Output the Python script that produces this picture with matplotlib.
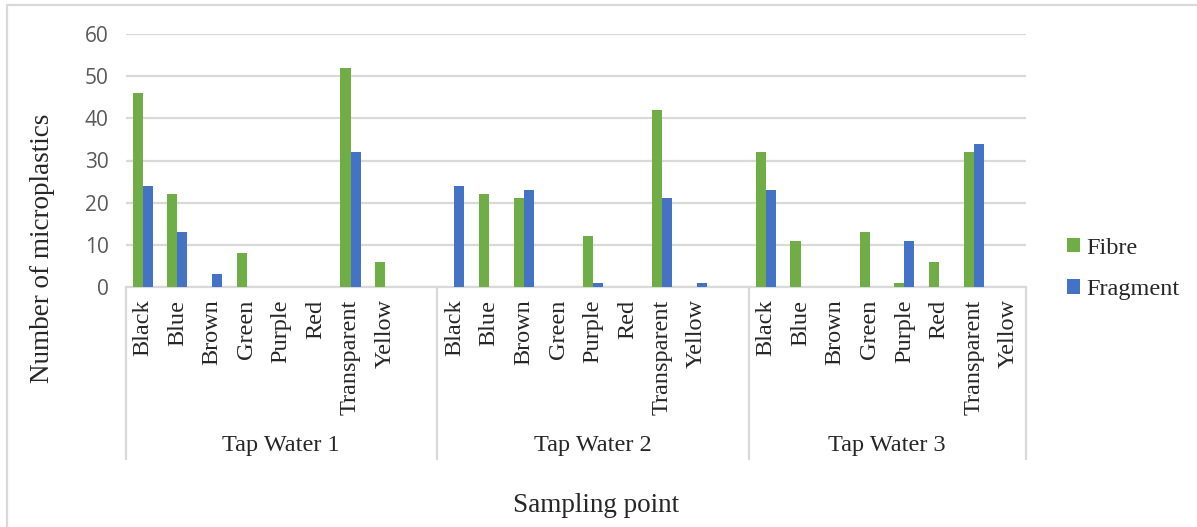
import matplotlib
matplotlib.use("Agg")
import matplotlib.pyplot as plt
from matplotlib.lines import Line2D
from matplotlib.patches import Patch
from matplotlib.transforms import blended_transform_factory

# Data
groups = ["Tap Water 1", "Tap Water 2", "Tap Water 3"]
colours = ["Black", "Blue", "Brown", "Green", "Purple", "Red", "Transparent", "Yellow"]
fibre = [
    [46, 22, 0, 8, 0, 0, 52, 6],
    [0, 22, 21, 0, 12, 0, 42, 0],
    [32, 11, 0, 13, 1, 6, 32, 0],
]
fragment = [
    [24, 13, 3, 0, 0, 0, 32, 0],
    [24, 0, 23, 0, 1, 0, 21, 1],
    [23, 0, 0, 0, 11, 0, 34, 0],
]
y_ticks = [0, 10, 20, 30, 40, 50, 60]

W, H = 1197, 527
fig = plt.figure(figsize=(W / 100, H / 100), dpi=100)

# Axes placement in pixels
x0, x1 = 125.5, 1025.5
y_zero, y_top = 287, 34
ax = fig.add_axes([x0 / W, 1 - y_zero / H, (x1 - x0) / W, (y_zero - y_top) / H])

GREEN = "#70AD47"
BLUE = "#4472C4"
GRID = "#D9D9D9"
TEXT = "#262626"
serif = "Liberation Serif"
fs = 17.5

# Each group takes 9 slots (8 colours + one empty), the last group only 8
slots_per_group = [9, 9, 8]
starts = [0, 9, 18]
n_slots = sum(slots_per_group)
bw = 0.29

centers = []
labels = []
for g in range(len(groups)):
    for c, name in enumerate(colours):
        xc = starts[g] + c + 0.5
        centers.append(xc)
        labels.append(name)
        if fibre[g][c] > 0:
            ax.bar(xc - bw / 2, fibre[g][c], width=bw, color=GREEN, zorder=3)
        if fragment[g][c] > 0:
            ax.bar(xc + bw / 2, fragment[g][c], width=bw, color=BLUE, zorder=3)

ax.set_xlim(0, n_slots)
ax.set_ylim(0, 60)
ax.set_yticks(y_ticks)
ax.yaxis.grid(True, color=GRID, linewidth=1.6, zorder=0)
ax.set_axisbelow(True)
for s in ["top", "right", "left"]:
    ax.spines[s].set_visible(False)
ax.spines["bottom"].set_color(GRID)
ax.spines["bottom"].set_linewidth(1.6)
ax.tick_params(axis="y", length=0, pad=12, labelsize=15, labelcolor="#595959")
for t in ax.get_yticklabels():
    t.set_fontfamily("Open Sans")

ax.set_xticks(centers)
ax.set_xticklabels(labels, rotation=90, fontsize=fs, family=serif, color=TEXT)
ax.tick_params(axis="x", length=0, pad=9)

# Group separators and group labels below the category labels
trans = blended_transform_factory(ax.transData, ax.transAxes)
sep_bottom = -(460 - y_zero) / (y_zero - y_top)
bounds = [0, 9, 18, 26]
ax.vlines(bounds, sep_bottom, 0, transform=trans, colors=GRID, linewidth=1.6, clip_on=False)
label_y = -(446 - y_zero) / (y_zero - y_top)
for g, name in enumerate(groups):
    xc = starts[g] + slots_per_group[g] / 2
    ax.text(xc, label_y, name, transform=trans, ha="center", va="center",
            fontsize=fs, family=serif, color=TEXT)

# Axis titles
fig.text(43 / W, 1 - 248 / H, "Number of microplastics", rotation=90, ha="center",
         va="center", fontsize=19.5, family=serif, color=TEXT)
fig.text(596 / W, 1 - 505 / H, "Sampling point", ha="center", va="center",
         fontsize=19.5, family=serif, color=TEXT)

# Legend
handles = [Patch(facecolor=GREEN, edgecolor="none", label="Fibre"),
           Patch(facecolor=BLUE, edgecolor="none", label="Fragment")]
fig.legend(handles=handles, loc="center left", bbox_to_anchor=(1062 / W, 1 - 269 / H),
           frameon=False, prop={"family": serif, "size": fs}, handlelength=0.55,
           handleheight=0.55, handletextpad=0.25, labelspacing=0.85,
           labelcolor=TEXT, borderpad=0.2, borderaxespad=0.0)

# Chart border (left and top edges)
fig.add_artist(Line2D([6.5 / W, 6.5 / W, 1.0], [0.0, 1 - 5 / H, 1 - 5 / H],
                      transform=fig.transFigure, color=GRID, linewidth=1.6))

fig.savefig("out.png", dpi=100)
